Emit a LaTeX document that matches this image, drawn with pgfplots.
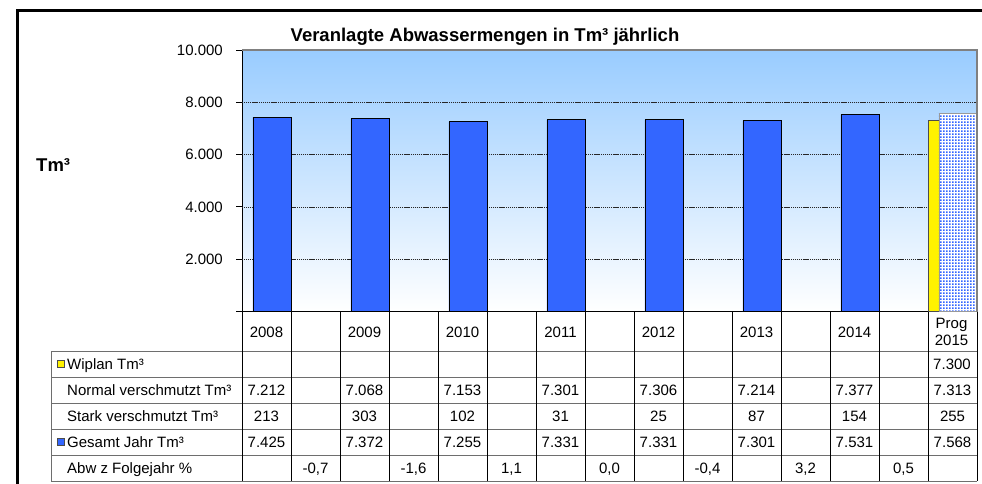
\documentclass[border=0pt]{standalone}
\usepackage{pgfplots}
\pgfplotsset{compat=1.18}
\usepackage{fontspec}
\setmainfont{Liberation Sans}
\usetikzlibrary{patterns}
\definecolor{barblue}{RGB}{51,102,255}
\definecolor{bgblue}{RGB}{153,204,255}
\definecolor{linegray}{RGB}{110,110,110}
\pgfdeclarepatternformonly{bluedots}{\pgfpointorigin}{\pgfpoint{3.3pt}{3.3pt}}{\pgfpoint{3.3pt}{3.3pt}}{%
  \pgfpathrectangle{\pgfpoint{0.3pt}{0.3pt}}{\pgfpoint{1.8pt}{1.8pt}}\pgfusepath{fill}}
\begin{document}
\fontsize{15pt}{18pt}\selectfont
\begin{tikzpicture}
\clip (0,0) rectangle (982pt,483pt);
\begin{axis}[
  at={(242pt,171.5pt)}, anchor=south west,
  scale only axis, width=735pt, height=261.5pt,
  xmin=-0.5, xmax=14.5, ymin=0, ymax=10000,
  xtick=\empty,
  scaled y ticks=false,
  ytick={0,2000,4000,6000,8000,10000},
  yticklabels={,2.000,4.000,6.000,8.000,10.000},
  yticklabel style={font=\fontsize{15pt}{18pt}\selectfont, xshift=-8pt},
  tick align=outside, major tick length=6pt,
  tick style={black, line width=0.9pt},
  extra y ticks={2000,4000,6000,8000},
  extra y tick labels={},
  extra y tick style={grid=major, major tick length=0pt},
  grid style={black!85, line width=0.5pt, dash pattern=on 1.2pt off 0.7pt},
  axis x line*=bottom, axis y line*=left,
  axis line style={black, line width=0.9pt},
  axis background/.style={top color=bgblue, bottom color=white},
  clip=false,
]
\addplot[ybar, bar width=0.776, bar shift=-0.102, fill=yellow, draw=black!70, line width=0.8pt]
  coordinates {(14,7300)};
\addplot[ybar, bar width=0.776, bar shift=0.112, fill=barblue, draw=black, line width=0.8pt]
  coordinates {(0,7425) (2,7372) (4,7255) (6,7331) (8,7331) (10,7301) (12,7531)};
\addplot[ybar, bar width=0.776, bar shift=0.112, fill=white, draw=none]
  coordinates {(14,7568)};
\addplot[ybar, bar width=0.776, bar shift=0.112, pattern=bluedots, pattern color=barblue, draw=black!40, line width=0.6pt]
  coordinates {(14,7568)};
\draw[gray, line width=1.2pt] (rel axis cs:0,1) -- (rel axis cs:1,1) -- (rel axis cs:1,0);
\end{axis}
\begin{scope}[x=1pt, y=-1pt, yshift=483pt]
  % frame
  \draw[line width=2.5pt] (17.5,10.5) rectangle (1000,500);
  % title and y label
  \node[anchor=base, font=\fontsize{18.5pt}{22pt}\selectfont\bfseries, inner sep=0pt] at (485,41.5) {Veranlagte Abwassermengen in Tm³ jährlich};
  \node[anchor=base west, font=\fontsize{18.5pt}{22pt}\selectfont\bfseries, inner sep=0pt] at (36,171) {Tm³};
  % table lines
  \foreach \yy in {351,377,403,429,455,481}
    \draw[linegray, line width=1pt] (51,\yy) -- (977,\yy);
  \draw[linegray, line width=1pt] (51,351) -- (51,481);
  \foreach \k in {0,...,15}
    \draw[black, line width=1pt] ({242+49*\k},311.5) -- ({242+49*\k},481);
  % legend keys
  \draw[fill=yellow, draw=black!70, line width=0.6pt] (57,360.3) rectangle (64.3,367.7);
  \draw[fill=barblue, draw=black!70, line width=0.6pt] (57,438.3) rectangle (64.3,445.7);
  % row labels
  \node[anchor=base west, inner sep=0pt] at (67,369.3) {Wiplan Tm³};
  \node[anchor=base west, inner sep=0pt] at (67,395.3) {Normal verschmutzt Tm³};
  \node[anchor=base west, inner sep=0pt] at (67,421.3) {Stark verschmutzt Tm³};
  \node[anchor=base west, inner sep=0pt] at (67,447.3) {Gesamt Jahr Tm³};
  \node[anchor=base west, inner sep=0pt] at (67,473.3) {Abw z Folgejahr \%};
  % header
  \foreach \k/\lab in {0/2008,2/2009,4/2010,6/2011,8/2012,10/2013,12/2014}
    \node[anchor=base, inner sep=0pt] at ({266.5+49*\k},337.3) {\lab};
  \node[anchor=base, inner sep=0pt] at (951.5,328.7) {Prog};
  \node[anchor=base, inner sep=0pt] at (951.5,345.5) {2015};
  % data rows
  \node[anchor=base, inner sep=0pt] at (952,369.3) {7.300};
  \foreach \k/\v in {0/7.212,2/7.068,4/7.153,6/7.301,8/7.306,10/7.214,12/7.377,14/7.313}
    \node[anchor=base, inner sep=0pt] at ({266.5+49*\k},395.3) {\v};
  \foreach \k/\v in {0/213,2/303,4/102,6/31,8/25,10/87,12/154,14/255}
    \node[anchor=base, inner sep=0pt] at ({266.5+49*\k},421.3) {\v};
  \foreach \k/\v in {0/7.425,2/7.372,4/7.255,6/7.331,8/7.331,10/7.301,12/7.531,14/7.568}
    \node[anchor=base, inner sep=0pt] at ({266.5+49*\k},447.3) {\v};
  \foreach \k/\v in {1/{-0,7},3/{-1,6},5/{1,1},7/{0,0},9/{-0,4},11/{3,2},13/{0,5}}
    \node[anchor=base, inner sep=0pt] at ({266.5+49*\k},473.3) {\v};
\end{scope}
\end{tikzpicture}
\end{document}
